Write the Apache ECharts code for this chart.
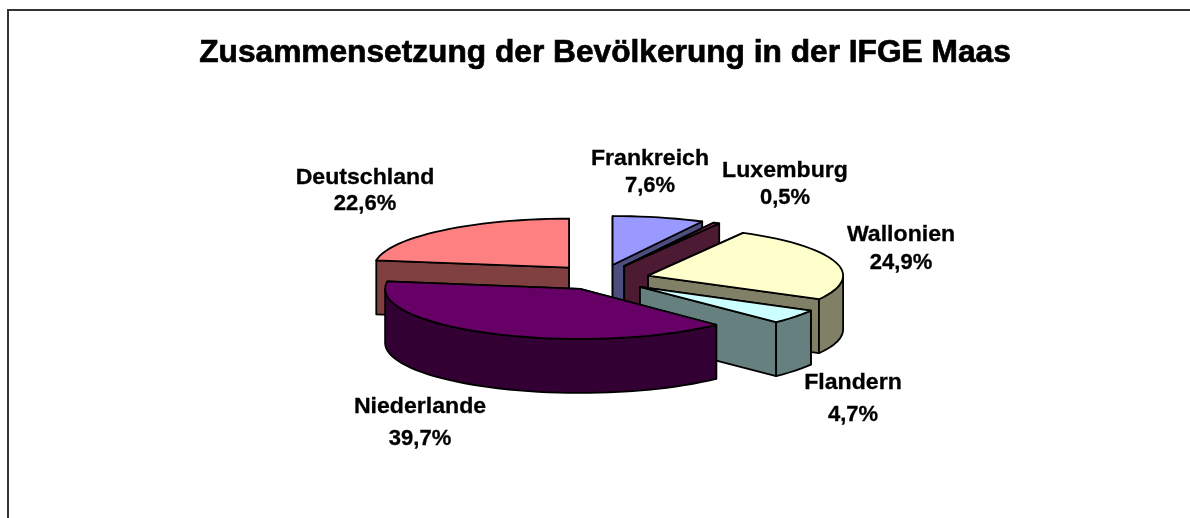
<!DOCTYPE html>
<html><head><meta charset="utf-8">
<style>html,body{margin:0;padding:0;background:#fff}#c{width:1190px;height:518px}</style>
<script src="https://cdn.jsdelivr.net/npm/echarts@6/dist/echarts.min.js"></script>
</head><body><div id="c"></div>
<script>
// --- data, clockwise from 12 o'clock ---
const categories = ['Frankreich','Luxemburg','Wallonien','Flandern','Niederlande','Deutschland'];
const values = [7.6,0.5,24.9,4.7,39.7,22.6];
const valueLabels = ['7,6%','0,5%','24,9%','4,7%','39,7%','22,6%'];
const topColors = ['#9999FF','#993366','#FFFFCC','#CCFFFF','#660066','#FF8080'];
const sideColors = ['#4D4D80','#4D1A33','#808066','#668080','#330033','#804040'];
const paintOrder = ['Deutschland','Frankreich','Luxemburg','Wallonien','Flandern','Niederlande'];
const titleText = 'Zusammensetzung der Bevölkerung in der IFGE Maas';
// --- layout ---
const PIE = {cx:601, cy:277, rx:195, ry:49, depth:54, explode:49};
const sliceNudge = {Wallonien:{dy:2}, Flandern:{dy:2.5}, Niederlande:{dx:1.5,dy:1,dry:1}};
const labelLayout = {
  Frankreich:{x:650,y1:159,y2:186}, Luxemburg:{x:785,y1:171,y2:198},
  Wallonien:{x:901,y1:235,y2:263}, Flandern:{x:853,y1:383,y2:415},
  Niederlande:{x:420,y1:407,y2:439}, Deutschland:{x:365,y1:178,y2:204}
};
const total = values.reduce((a,b)=>a+b,0);
let acc = 0;
const spans = values.map(v=>{const s=acc/total*360; acc+=v; return [s,acc/total*360];});
const rad = d=>d*Math.PI/180;

function renderSlice(params, api){
  const i = api.value(0);
  const [a0,a1] = spans[i];
  const mid = (a0+a1)/2;
  const n = sliceNudge[categories[i]] || {};
  const ry = PIE.ry + (n.dry||0);
  const ax = PIE.cx + PIE.explode*Math.sin(rad(mid)) + (n.dx||0);
  const ay = PIE.cy - PIE.explode*Math.cos(rad(mid))*PIE.ry/PIE.rx + (n.dy||0);
  const pt = (d,drop=0)=>[ax+PIE.rx*Math.sin(rad(d)), ay-ry*Math.cos(rad(d))+drop];
  const arc = (s,e,drop=0)=>{
    const m=Math.max(2,Math.ceil((e-s)/3)), out=[];
    for(let k=0;k<=m;k++) out.push(pt(s+(e-s)*k/m,drop));
    return out;
  };
  const rank = paintOrder.indexOf(categories[i])*10;
  const stroke = {stroke:'#000',lineWidth:1.8,lineJoin:'round'};
  const poly=(points,fill,z)=>({type:'polygon',z2:rank+z,shape:{points},style:{fill,...stroke}});
  const apexLow=[ax,ay+PIE.depth];
  const children=[
    poly([[ax,ay],pt(a0),pt(a0,PIE.depth),apexLow],sideColors[i],1),
    poly([[ax,ay],pt(a1),pt(a1,PIE.depth),apexLow],sideColors[i],1)
  ];
  const ws=Math.max(a0,90), we=Math.min(a1,270);
  if(ws<we){
    children.push(poly(arc(ws,we).concat(arc(ws,we,PIE.depth).reverse()),sideColors[i],2));
  }
  children.push(poly([[ax,ay]].concat(arc(a0,a1)),topColors[i],3));
  return {type:'group',children};
}
function labelText(x,y,text,scaleX){
  return {type:'text',z:10,x,y,scaleX,style:{text,fill:'#000',stroke:'#000',lineWidth:0.3,align:'center',verticalAlign:'middle',
    font:'bold 22px "Liberation Sans", Arial, sans-serif'}};
}
const graphics=[
  {type:'polyline',z:0,silent:true,shape:{points:[[8,530],[8,10],[1195,10]]},style:{fill:'none',stroke:'#333',lineWidth:2}},
  {type:'text',z:10,x:605,y:53,scaleX:0.99,style:{text:titleText,fill:'#000',stroke:'#000',lineWidth:0.7,align:'center',verticalAlign:'middle',
    font:'bold 32px "Liberation Sans", Arial, sans-serif'}}
];
categories.forEach((c,i)=>{const l=labelLayout[c];
  graphics.push(labelText(l.x,l.y1,c,1.05),labelText(l.x,l.y2,valueLabels[i],1));});

const chart=echarts.init(document.getElementById('c'));
chart.setOption({
  animation:false,
  backgroundColor:'#fff',
  graphic:{elements:graphics},
  series:[{type:'custom',coordinateSystem:'none',silent:true,z:5,
    data:values.map((v,i)=>[i,v]),renderItem:renderSlice}]
});
</script></body></html>
